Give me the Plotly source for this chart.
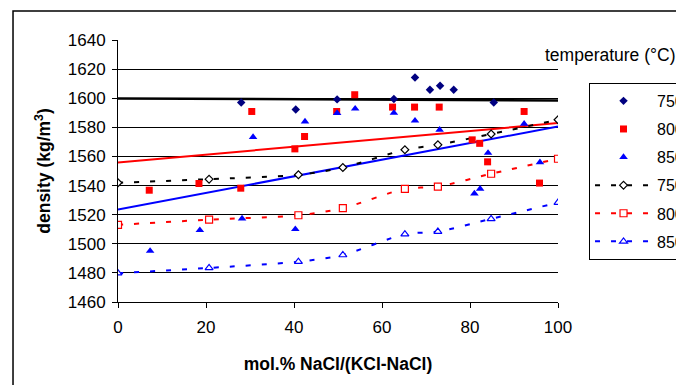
import plotly.graph_objects as go

# ---- data ----
x750 = [28.0, 40.4, 49.8, 62.7, 67.5, 70.9, 73.2, 76.3, 85.4]
y750 = [1597.1, 1592.3, 1599.2, 1599.4, 1614.3, 1605.8, 1608.6, 1605.8, 1597.1]

x800 = [7.1, 18.4, 27.9, 30.4, 40.2, 42.4, 49.7, 53.8, 62.4, 67.4, 73.0, 80.5, 82.2, 84.0, 92.3, 95.8]
y800 = [1536.8, 1541.4, 1538.2, 1590.9, 1565.2, 1573.7, 1590.9, 1602.4, 1593.9, 1593.9, 1593.9,
        1571.4, 1569.0, 1556.3, 1590.9, 1541.7]

x850 = [7.3, 18.6, 28.2, 30.7, 40.3, 42.5, 49.8, 53.9, 62.7, 67.5, 73.1, 81.0, 82.3, 84.1, 92.3, 95.9]
y850 = [1495.1, 1509.3, 1517.3, 1573.3, 1510.0, 1584.0, 1589.8, 1592.8, 1589.9, 1584.6, 1578.3,
        1534.5, 1537.8, 1562.4, 1582.4, 1556.0]

x_calc = [0, 20.7, 41.0, 51.1, 65.2, 72.7, 84.8, 100]
y750_calc = [1541.9, 1544.4, 1547.4, 1552.4, 1564.6, 1568.0, 1575.4, 1585.2]
y800_calc = [1513.0, 1516.6, 1519.6, 1524.5, 1537.7, 1539.3, 1548.1, 1558.4]
y850_calc = [1479.8, 1483.4, 1487.7, 1492.3, 1506.6, 1508.4, 1517.1, 1528.3]

trend_x = [0, 100]
trend750 = [1599.8, 1598.5]
trend800 = [1555.8, 1582.9]
trend850 = [1523.5, 1580.6]

labels = ["750", "800", "850"]
x_ticks = [0, 20, 40, 60, 80, 100]
y_ticks = [1460, 1480, 1500, 1520, 1540, 1560, 1580, 1600, 1620, 1640]

FONT = "Liberation Sans, Arial, sans-serif"
NAVY, RED, BLUE, BLACK = "#000080", "#FF0000", "#0000FF", "#000000"

fig = go.Figure()

# trendlines
for ty, col, w in [(trend750, BLACK, 2.5), (trend800, RED, 2), (trend850, BLUE, 2)]:
    fig.add_trace(go.Scatter(x=trend_x, y=ty, mode="lines", line=dict(color=col, width=w),
                             showlegend=False, hoverinfo="skip"))

# calculated dashed series
for i, (yy, col, sym) in enumerate([(y750_calc, BLACK, "diamond"),
                                    (y800_calc, RED, "square"),
                                    (y850_calc, BLUE, "triangle-up")]):
    fig.add_trace(go.Scatter(
        x=x_calc, y=yy, mode="lines+markers", name=labels[i],
        line=dict(color=col, width=2, dash="5px,11px", shape="spline", smoothing=0.8),
        marker=dict(symbol=sym, size=7 if sym != "diamond" else 6, color="white",
                    line=dict(color=col, width=1.2)),
        legendgroup="c" + labels[i], legendrank=10 + i))

# measured points
for i, (xx, yy, col, sym, sz) in enumerate([(x750, y750, NAVY, "diamond", 6.5),
                                            (x800, y800, RED, "square", 7),
                                            (x850, y850, BLUE, "triangle-up", 7.5)]):
    fig.add_trace(go.Scatter(
        x=xx, y=yy, mode="markers", name=labels[i],
        marker=dict(symbol=sym, size=sz, color=col, line=dict(width=0)),
        legendgroup="m" + labels[i], legendrank=i + 1))

fig.update_layout(
    width=676, height=377,
    margin=dict(l=110, r=126, t=32, b=83, autoexpand=False),
    paper_bgcolor="white", plot_bgcolor="white",
    font=dict(family=FONT, size=17, color="black"),
    showlegend=True,
    legend=dict(x=1.0705, y=0.836, xanchor="left", yanchor="top",
                bordercolor="black", borderwidth=1, bgcolor="white",
                font=dict(size=16), itemwidth=57, tracegroupgap=4.3,
                traceorder="grouped"),
    xaxis=dict(range=[0, 100], tickvals=x_ticks, ticktext=[str(v) for v in x_ticks],
               showgrid=False, zeroline=False, showline=True, linecolor="black", linewidth=1,
               ticks="outside", ticklen=5, tickcolor="black", ticklabelstandoff=5,
               automargin=False,
               title=dict(text="<b>mol.% NaCl/(KCl-NaCl)</b>", font=dict(size=17.5), standoff=21)),
    yaxis=dict(range=[1460, 1640], tickvals=y_ticks, ticktext=[str(v) for v in y_ticks],
               showgrid=True, gridcolor="black", gridwidth=1, zeroline=False,
               showline=True, linecolor="black", linewidth=1,
               ticks="outside", ticklen=5, tickcolor="black", ticklabelstandoff=3,
               automargin=False,
               title=dict(text="<b>density (kg/m<sup>3</sup>)</b>", font=dict(size=17.5), standoff=12)),
    annotations=[dict(text="temperature (°C)", xref="paper", yref="paper", x=0.966, y=0.943,
                      xanchor="left", yanchor="middle", showarrow=False, font=dict(size=17.5))],
    shapes=[dict(type="rect", xref="paper", yref="paper", x0=-0.2386, y0=-1, x1=2, y1=1.1107,
                 line=dict(color="black", width=1.5), fillcolor="rgba(0,0,0,0)", layer="above")],
)

fig.write_html("out.html")
